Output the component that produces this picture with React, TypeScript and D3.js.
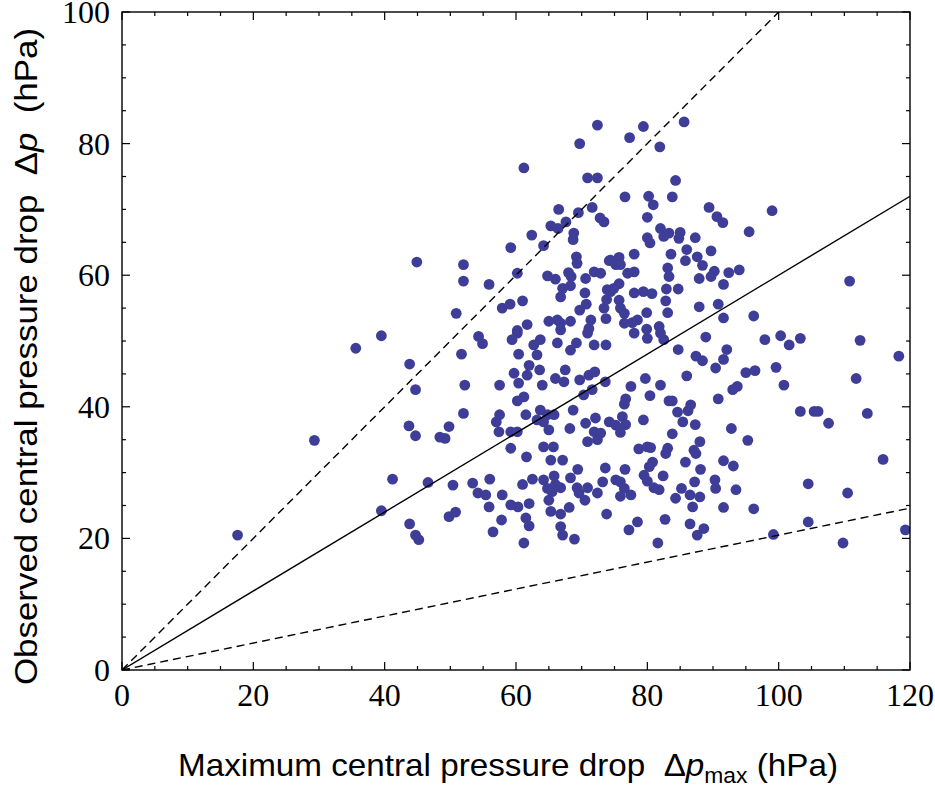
import * as d3 from "d3";

// [max central pressure drop, observed central pressure drop] in hPa
const cyclones: [number, number][] = [
  [72.4, 82.8], [69.7, 80.0], [61.2, 76.3], [70.9, 74.8], [72.4, 74.8], [66.5, 70.0], [69.5, 69.5], [71.6, 70.3], [72.8, 68.7], [73.4, 68.1],
  [67.6, 68.1], [65.3, 67.5], [66.4, 67.1], [68.8, 66.4], [68.7, 65.4], [62.4, 66.1], [59.2, 64.2], [64.2, 64.5], [69.2, 62.8], [69.3, 61.8],
  [52.0, 61.6], [74.2, 62.2], [52.0, 59.1], [55.9, 58.6], [60.2, 60.3], [64.8, 59.9], [66.0, 59.4], [68.0, 60.4], [68.4, 59.8], [70.6, 59.5],
  [71.9, 60.5], [72.9, 60.3], [67.1, 58.0], [68.3, 58.4], [66.8, 56.7], [70.5, 57.3], [73.9, 57.8], [73.8, 56.3], [50.9, 54.2], [57.9, 55.0],
  [59.1, 55.6], [61.0, 56.1], [69.7, 54.7], [70.7, 55.6], [73.4, 55.0], [61.7, 52.5], [60.2, 51.6], [65.0, 53.0], [66.3, 53.2], [66.8, 52.7],
  [68.3, 53.0], [71.4, 53.2], [73.7, 53.4],
  [77.3, 80.9], [79.4, 82.6], [85.6, 83.3], [81.9, 79.5], [84.3, 74.4], [76.6, 71.9], [80.2, 72.0], [80.9, 70.7], [83.8, 71.9], [89.4, 70.3],
  [90.6, 68.9], [91.5, 68.0], [99.0, 69.8], [80.0, 68.8], [95.5, 66.6], [82.0, 67.1], [82.5, 65.9], [83.3, 66.4], [85.0, 66.5], [84.8, 65.6],
  [87.3, 65.7], [80.0, 65.7], [80.4, 64.9], [86.0, 63.9], [89.7, 63.7], [78.0, 63.2], [83.6, 63.2], [87.6, 62.8], [74.4, 62.3], [75.7, 62.7],
  [75.2, 61.6], [75.9, 61.6], [85.8, 62.2], [88.4, 61.5], [83.1, 61.1], [83.3, 59.8], [77.0, 60.3], [78.0, 60.5], [90.2, 60.6], [89.7, 59.8],
  [92.4, 60.4], [94.0, 60.8], [87.9, 59.5], [91.6, 58.6], [75.7, 58.7], [74.9, 58.0], [74.4, 57.5], [78.0, 57.3], [79.4, 57.5], [80.7, 57.2],
  [82.9, 57.9], [84.7, 57.9], [75.7, 56.2], [82.8, 56.1], [75.9, 55.0], [76.5, 54.2], [79.9, 54.3], [83.1, 54.3], [87.9, 55.2], [90.8, 55.6],
  [91.6, 53.5], [96.2, 53.8], [76.5, 52.7], [77.7, 52.8], [78.5, 53.2], [79.9, 51.8], [81.8, 52.2],
  [54.3, 50.7], [54.9, 49.6], [51.7, 48.0], [60.2, 51.2], [59.4, 50.2], [62.7, 49.4], [63.7, 50.2], [63.2, 47.9], [60.4, 48.0], [66.3, 49.7],
  [66.8, 51.7], [68.3, 48.6], [69.2, 49.7], [70.9, 51.2], [71.1, 51.9], [71.9, 49.4], [73.7, 49.4], [62.0, 46.3], [61.7, 44.8], [59.7, 45.1],
  [60.4, 43.6], [63.6, 45.6], [64.0, 43.3], [52.2, 43.3], [57.5, 43.3], [66.0, 44.3], [67.3, 43.8], [67.5, 45.6], [69.7, 44.1], [71.1, 44.8],
  [72.0, 45.3], [71.6, 42.6], [70.3, 41.8], [73.6, 43.8], [61.2, 41.5], [60.2, 40.9], [52.0, 39.0], [49.8, 37.0], [48.4, 35.4], [49.2, 35.2],
  [57.5, 38.8], [57.0, 37.7], [57.4, 36.2], [61.5, 38.8], [59.2, 36.2], [60.2, 36.2], [63.7, 39.5], [64.8, 38.8], [64.2, 37.7], [65.8, 38.8],
  [63.2, 38.0], [65.0, 36.5], [68.7, 39.5], [68.2, 36.7], [70.6, 37.5], [72.1, 38.3], [74.2, 37.7], [71.9, 36.2], [72.9, 36.0], [70.9, 34.7],
  [72.4, 35.0], [59.2, 33.7], [61.6, 32.4], [64.2, 33.9], [65.7, 33.9], [65.3, 31.9], [67.1, 31.9], [73.6, 30.7], [69.4, 30.5], [50.4, 28.1],
  [53.4, 28.4], [54.2, 26.9], [55.4, 26.6], [56.0, 29.0], [55.9, 24.8], [57.9, 26.6], [59.2, 25.1], [60.3, 24.8], [61.0, 28.2], [62.5, 29.0],
  [62.0, 25.3], [64.2, 28.9], [65.8, 29.5], [64.8, 27.6], [66.0, 28.2], [65.5, 27.1], [66.8, 27.7], [68.3, 29.2], [69.3, 27.7], [69.6, 26.9],
  [70.9, 27.7], [72.4, 26.9], [73.2, 28.6], [70.5, 25.8], [65.0, 25.8], [65.3, 24.1], [68.1, 24.7], [66.8, 23.7], [49.8, 23.3], [50.8, 24.0],
  [57.8, 22.8], [61.5, 23.1], [62.0, 21.9], [56.5, 21.0], [66.8, 21.8], [67.1, 20.5], [68.9, 19.9], [61.2, 19.3], [73.8, 23.7],
  [78.0, 51.2], [80.0, 50.4], [82.0, 51.2], [82.5, 50.2], [88.9, 50.6], [84.7, 48.7], [87.4, 47.7], [88.4, 47.0], [92.1, 48.7], [91.6, 47.2],
  [90.4, 45.9], [95.0, 45.2], [96.4, 45.5], [86.0, 44.7], [79.7, 44.3], [82.0, 43.3], [77.5, 43.1], [80.4, 41.7], [76.7, 41.2], [76.5, 40.4],
  [83.3, 40.9], [83.8, 40.9], [86.6, 40.3], [86.2, 39.4], [84.6, 39.2], [85.4, 37.7], [93.7, 43.1], [93.0, 42.6], [90.8, 41.2], [87.3, 37.3],
  [92.8, 36.7], [79.4, 38.0], [75.2, 37.2], [76.2, 38.5], [76.7, 37.3], [75.9, 36.1], [83.8, 35.9], [95.3, 34.9], [88.0, 34.7], [87.1, 33.4],
  [87.4, 32.9], [78.7, 33.6], [80.0, 33.9], [80.5, 33.8], [83.1, 33.7], [82.8, 32.9], [80.8, 31.6], [80.3, 30.9], [76.6, 30.5], [85.8, 31.6],
  [88.1, 30.5], [91.6, 31.8], [93.1, 31.0], [79.5, 29.6], [80.0, 28.7], [81.0, 27.7], [81.8, 27.4], [82.4, 29.5], [75.2, 28.9], [75.9, 28.6],
  [76.5, 27.6], [75.9, 26.4], [77.5, 26.6], [87.2, 28.6], [90.3, 28.9], [90.4, 27.6], [85.2, 27.6], [86.5, 26.6], [88.0, 26.3], [84.3, 26.1],
  [93.5, 27.4], [86.9, 24.8], [91.6, 24.7], [96.2, 24.5], [82.7, 22.9], [78.5, 22.5], [77.2, 21.3], [86.5, 22.2], [88.6, 21.5], [87.6, 20.5],
  [81.6, 19.3],
  [110.8, 59.1], [97.9, 50.2], [100.3, 50.8], [101.6, 49.4], [103.3, 50.4], [112.4, 50.1], [118.3, 47.7], [99.6, 46.0], [100.8, 43.3], [111.8, 44.3],
  [103.3, 39.3], [105.4, 39.3], [106.0, 39.3], [107.6, 37.5], [113.5, 39.0], [115.9, 32.0], [104.5, 28.3], [110.5, 26.9], [104.5, 22.5], [99.2, 20.6],
  [119.3, 21.3], [109.8, 19.3],
  [44.9, 62.0], [39.5, 50.8], [35.6, 48.9], [43.8, 46.5], [44.7, 42.6], [43.7, 37.1], [44.7, 35.6], [29.3, 34.9], [41.2, 29.0], [46.6, 28.5],
  [39.5, 24.2], [43.8, 22.2], [44.7, 20.5], [45.2, 19.8], [17.6, 20.5],
];

const xTicks = [0, 20, 40, 60, 80, 100, 120];
const yTicks = [0, 20, 40, 60, 80, 100];
const fitSlope = 0.6;
const boundSlopes = [1, 0.205];

export default function App() {
  const width = 935;
  const height = 786;
  const margin = { top: 12, right: 25, bottom: 116, left: 122 };

  const x = d3.scaleLinear().domain([0, 120]).range([margin.left, width - margin.right]);
  const y = d3.scaleLinear().domain([0, 100]).range([height - margin.bottom, margin.top]);

  const [x0, x1] = x.range();
  const [y0, y1] = y.range();

  const minorX = d3.range(0, 121, 5);
  const minorY = d3.range(0, 101, 5);

  const line = d3
    .line<[number, number]>()
    .x((d) => x(d[0]))
    .y((d) => y(d[1]));
  const rayPath = (slope: number) => line([[0, 0], [120, 120 * slope]]) ?? "";

  const tickLen = (v: number) => (v % 20 === 0 ? 8 : 4);

  return (
    <svg
      width={width}
      height={height}
      style={{ position: "absolute", left: 0, top: 0, background: "#fff" }}
    >
      <defs>
        <clipPath id="plot">
          <rect x={x0} y={y1} width={x1 - x0} height={y0 - y1} />
        </clipPath>
      </defs>

      <g clipPath="url(#plot)">
        {cyclones.map((d, i) => (
          <circle key={i} cx={x(d[0])} cy={y(d[1])} r={5.4} fill="#3e3e98" />
        ))}
        <path d={rayPath(fitSlope)} stroke="#000" strokeWidth={1.4} fill="none" />
        {boundSlopes.map((s) => (
          <path
            key={s}
            d={rayPath(s)}
            stroke="#000"
            strokeWidth={1.4}
            strokeDasharray="8,5"
            fill="none"
          />
        ))}
      </g>

      <rect x={x0} y={y1} width={x1 - x0} height={y0 - y1} fill="none" stroke="#000" strokeWidth={1.4} />

      {minorX.map((v) => (
        <g key={`x${v}`} stroke="#000" strokeWidth={1.2}>
          <line x1={x(v)} x2={x(v)} y1={y0} y2={y0 - tickLen(v)} />
          <line x1={x(v)} x2={x(v)} y1={y1} y2={y1 + tickLen(v)} />
        </g>
      ))}
      {minorY.map((v) => (
        <g key={`y${v}`} stroke="#000" strokeWidth={1.2}>
          <line x1={x0} x2={x0 + tickLen(v)} y1={y(v)} y2={y(v)} />
          <line x1={x1} x2={x1 - tickLen(v)} y1={y(v)} y2={y(v)} />
        </g>
      ))}

      <g fontFamily="Liberation Serif" fontSize={32} fill="#000">
        {xTicks.map((v) => (
          <text key={v} x={x(v)} y={y0 + 36} textAnchor="middle">
            {v}
          </text>
        ))}
        {yTicks.map((v) => (
          <text key={v} x={x0 - 12} y={y(v) + 11} textAnchor="end">
            {v}
          </text>
        ))}
      </g>

      <text
        x={178}
        y={776}
        fontFamily="Liberation Sans"
        fontSize={32}
        textLength={660}
        lengthAdjust="spacingAndGlyphs"
        style={{ whiteSpace: "pre" }}
      >
        {"Maximum central pressure drop  \u0394"}
        <tspan fontStyle="italic">p</tspan>
        <tspan fontSize={22} dy={7}>max</tspan>
        <tspan dy={-7}>{" (hPa)"}</tspan>
      </text>

      <text
        transform="rotate(-90)"
        x={-685}
        y={37}
        fontFamily="Liberation Sans"
        fontSize={32}
        textLength={657}
        lengthAdjust="spacingAndGlyphs"
        style={{ whiteSpace: "pre" }}
      >
        {"Observed central pressure drop  \u0394"}
        <tspan fontStyle="italic">p</tspan>
        <tspan>{"  (hPa)"}</tspan>
      </text>
    </svg>
  );
}
